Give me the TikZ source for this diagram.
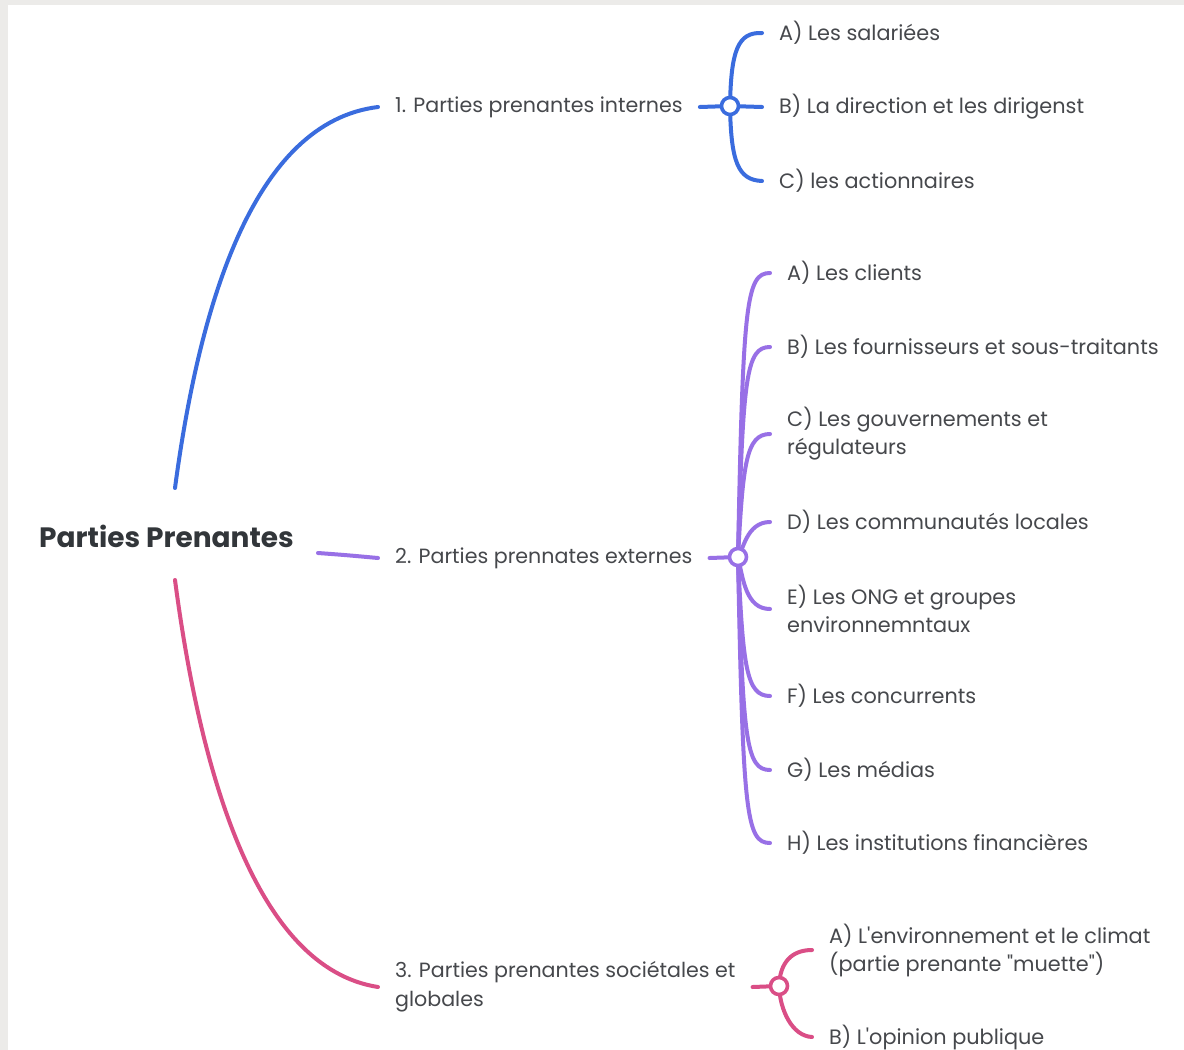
\documentclass[tikz,border=0pt]{standalone}
\usepackage{fontspec}
\setmainfont{Poppins}[Ligatures=TeXOff]
\usetikzlibrary{calc}
\definecolor{cblue}{RGB}{58,108,222}
\definecolor{cpurple}{RGB}{152,112,230}
\definecolor{cpink}{RGB}{218,78,134}
\definecolor{ctext}{RGB}{70,72,76}
\definecolor{croot}{RGB}{50,54,58}
\definecolor{cframe}{RGB}{236,235,233}
\begin{document}
\begin{tikzpicture}[x=1pt,y=-1pt,
  item/.style={anchor=west,inner xsep=17pt,inner ysep=0pt,text=ctext,font=\fontsize{20.8}{28}\selectfont,align=left},
  lvl/.style={anchor=west,inner xsep=17pt,inner ysep=0pt,text=ctext,font=\fontsize{20.6}{29}\selectfont,align=left},
  conn/.style={line width=4pt,line cap=round},
  hub/.style={circle,fill=white,line width=3.6pt,minimum size=17pt,inner sep=0pt}]
\useasboundingbox (0,0) rectangle (1184,1050);
\fill[cframe] (0,0) rectangle (1184,1050);
\fill[white] (8,5) rectangle (1184,1050);

% root
\node[anchor=west,inner sep=0pt,text=croot,font=\fontsize{28}{34}\selectfont\bfseries] (root) at (39,536) {Parties Prenantes};
\coordinate (rt) at (175,488);
\coordinate (rm) at (318,553);
\coordinate (rb) at (175,580);

% level 1
\node[lvl] (n1) at (378,107) {1. Parties prenantes internes};
\node[lvl] (n2) at (378,558) {2. Parties prennates externes};
\node[lvl] (n3) at (378,987) {3. Parties prenantes sociétales et\\globales};

\draw[conn,cblue] (rt) .. controls (200,300) and (255,122) .. (n1.west);
\draw[conn,cpurple] (rm) .. controls (345,555) .. (n2.west);
\draw[conn,cpink] (rb) .. controls (200,770) and (255,968) .. (n3.west);

% group 1
\coordinate (h1) at (730,106);
\node[item] (a1) at (762,33) {A) Les salariées};
\node[item] (b1) at (762,107) {B) La direction et les dirigenst};
\node[item] (c1) at (762,181) {C) les actionnaires};
\draw[conn,cblue] (n1.east) -- (h1);
\draw[conn,cblue] (h1) .. controls (731,50) and (738,32) .. (a1.west);
\draw[conn,cblue] (h1) -- (b1.west);
\draw[conn,cblue] (h1) .. controls (731,162) and (738,180) .. (c1.west);
\node[hub,draw=cblue] (H1) at (h1) {};

% group 2
\coordinate (h2) at (738,557);
\node[item] (a2) at (770,273) {A) Les clients};
\node[item] (b2) at (770,347) {B) Les fournisseurs et sous-traitants};
\node[item] (c2) at (770,434) {C) Les gouvernements et\\régulateurs};
\node[item] (d2) at (770,522) {D) Les communautés locales};
\node[item] (e2) at (770,609) {E) Les ONG et groupes\\environnemntaux};
\node[item] (f2) at (770,696) {F) Les concurrents};
\node[item] (g2) at (770,770) {G) Les médias};
\node[item] (h2n) at (770,843) {H) Les institutions financières};
\draw[conn,cpurple] (n2.east) -- (h2);
\foreach \t/\s in {a2/1,b2/1,c2/1,d2/1,e2/-1,f2/-1,g2/-1,h2n/-1}{
  \draw[conn,cpurple] (h2) .. controls ($(h2|-\t.west)+(5,\s*30)$) and ($(h2|-\t.west)+(8,0)$) .. (\t.west);
}
\node[hub,draw=cpurple] (H2) at (h2) {};

% group 3
\coordinate (h3) at (779,986);
\node[item] (a3) at (812,950) {A) L'environnement et le climat\\(partie prenante "muette")};
\node[item] (b3) at (812,1037) {B) L'opinion publique};
\draw[conn,cpink] (n3.east) -- (h3);
\draw[conn,cpink] (h3) .. controls (780,962) and (792,950) .. (a3.west);
\draw[conn,cpink] (h3) .. controls (780,1010) and (792,1036) .. (b3.west);
\node[hub,draw=cpink] (H3) at (h3) {};
\end{tikzpicture}
\end{document}
